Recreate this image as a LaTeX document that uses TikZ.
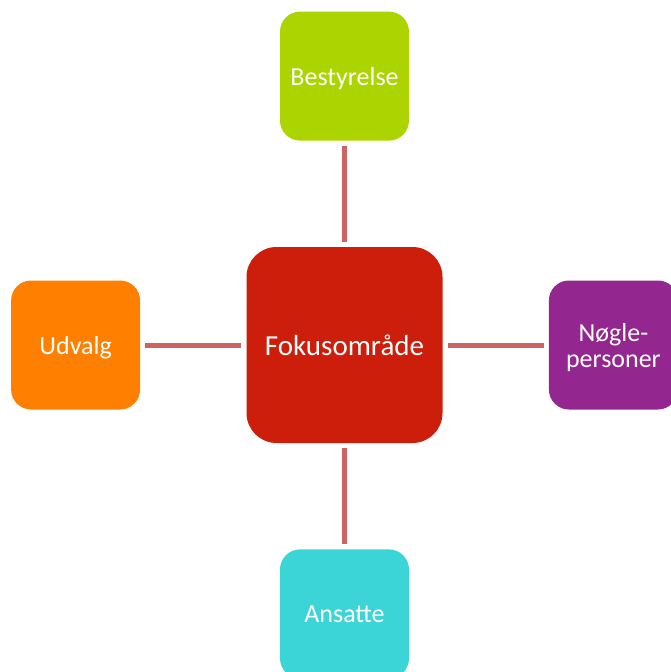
\documentclass[tikz,border=0pt]{standalone}
\usepackage{fontspec}
\setmainfont{Carlito}
\usetikzlibrary{positioning}

\definecolor{fokusred}{HTML}{CC1E0A}
\definecolor{limegreen}{HTML}{ABD400}
\definecolor{udvalgorange}{HTML}{FF7F00}
\definecolor{noeglepurple}{HTML}{93278F}
\definecolor{ansattecyan}{HTML}{3BD5D7}
\definecolor{linkrose}{HTML}{CD6462}

\begin{document}
\begin{tikzpicture}
  [
  % center block
  hub/.style = {rectangle,
    rounded corners = 30pt,
    fill = fokusred, text = white,
    minimum width = 196pt,
    minimum height = 196pt,
    text depth = 0pt,
    font = \fontsize{29}{31}\selectfont},
  % outer blocks
  satellite/.style = {rectangle,
    rounded corners = 20pt,
    text = white, align = center,
    node distance = 106pt,
    minimum width = 129pt,
    minimum height = 129pt,
    text depth = 0pt,
    font = \fontsize{26}{26}\selectfont},
  % line
  link/.style = {draw = linkrose, line width = 5pt,
    shorten < = 5pt, shorten > = 5pt},
  ]

  \useasboundingbox (0,0) rectangle (671pt,-672pt);

  % nodes
  \node [hub] (fokus) at (344.5pt,-345pt) {Fokusområde};
  \node [satellite, fill = limegreen, above = of fokus] (bestyrelse) {Bestyrelse};
  \node [satellite, fill = udvalgorange, left = of fokus] (udvalg) {Udvalg};
  \node [satellite, fill = noeglepurple, right = of fokus] (noegle) {Nøgle-\\personer};
  \node [satellite, fill = ansattecyan, below = of fokus] (ansatte) {Ansatte};

  % path
  \path [link] (bestyrelse) -- (fokus);
  \path [link] (udvalg) -- (fokus);
  \path [link] (noegle) -- (fokus);
  \path [link] (ansatte) -- (fokus);

\end{tikzpicture}
\end{document}
